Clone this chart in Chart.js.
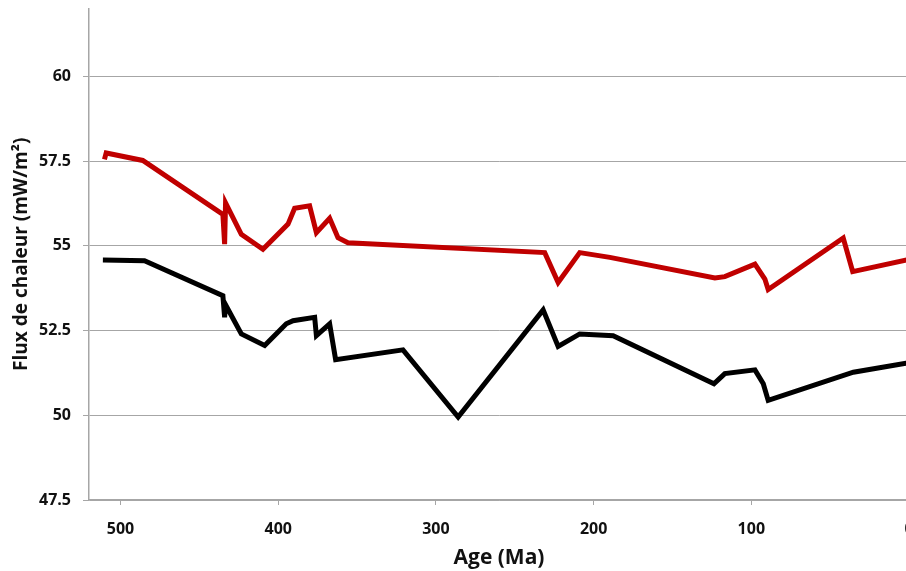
<!DOCTYPE html>
<html>
<head>
<meta charset="utf-8">
<script src="https://cdn.jsdelivr.net/npm/chart.js@4/dist/chart.umd.min.js"></script>
<style>
  html, body { margin: 0; padding: 0; background: #fff; overflow: hidden; }
  #wrap { position: absolute; left: 0; top: -13px; }
</style>
</head>
<body>
<div id="wrap"><canvas id="myChart" width="930" height="584"></canvas></div>
<script>
// values
const redAges = [510.2, 509.1, 485.9, 435.1, 434.0, 433.4, 423.4, 409.7, 393.8, 389.6, 380.1, 375.8, 367.4, 362.1, 355.8, 231.0, 222.5, 208.8, 189.7, 123.1, 116.8, 97.7, 91.4, 89.3, 41.7, 35.7, 0];
const redFlux = [57.55, 57.74, 57.52, 55.93, 55.05, 56.27, 55.34, 54.90, 55.64, 56.11, 56.18, 55.39, 55.81, 55.24, 55.09, 54.80, 53.92, 54.80, 54.66, 54.05, 54.09, 54.46, 54.02, 53.71, 55.23, 54.24, 54.6];

const blackAges = [511.2, 484.8, 435.1, 434.0, 433.4, 423.4, 408.6, 394.9, 390.6, 376.9, 375.8, 367.4, 363.6, 320.9, 285.9, 232.0, 222.5, 208.8, 187.6, 123.7, 116.8, 97.7, 92.4, 89.3, 35.3, 0];
const blackFlux = [54.58, 54.56, 53.53, 52.89, 53.26, 52.40, 52.06, 52.70, 52.79, 52.89, 52.35, 52.70, 51.64, 51.93, 49.95, 53.11, 52.03, 52.40, 52.35, 50.93, 51.23, 51.34, 50.93, 50.44, 51.27, 51.55];

const xTicks = [0, 100, 200, 300, 400, 500];
const yTicks = [47.5, 50, 52.5, 55, 57.5, 60];

const toPoints = (xs, ys) => xs.map((x, i) => ({ x: x, y: ys[i] }));

const tickFont = { family: "'Open Sans'", size: 16, weight: 'bold' };
const gridColor = '#a6a6a6';

new Chart("myChart", {
  type: "line",
  data: {
    datasets: [
      {
        label: "rouge",
        data: toPoints(redAges, redFlux),
        borderColor: "#c00000",
        borderWidth: 5,
        pointRadius: 0,
        tension: 0,
        fill: false
      },
      {
        label: "noir",
        data: toPoints(blackAges, blackFlux),
        borderColor: "#000000",
        borderWidth: 5,
        pointRadius: 0,
        tension: 0,
        fill: false
      }
    ]
  },
  options: {
    responsive: false,
    animation: false,
    layout: { padding: { left: 0, right: 21, top: 7, bottom: 0 } },
    plugins: {
      legend: { display: false },
      tooltip: { enabled: false }
    },
    scales: {
      x: {
        type: "linear",
        reverse: true,
        min: 0,
        max: 520,
        afterBuildTicks: s => { s.ticks = xTicks.map(v => ({ value: v })); },
        afterFit: s => { s.height = 71; },
        grid: { drawOnChartArea: false, drawTicks: true, tickLength: 5, color: gridColor },
        border: { color: gridColor, width: 1.5 },
        ticks: { font: tickFont, color: "#111", padding: 15, maxRotation: 0 },
        title: {
          display: true,
          text: "Age (Ma)",
          font: { family: "'Open Sans'", size: 21, weight: 'bold' },
          color: "#111",
          padding: { top: 0, bottom: 0 }
        }
      },
      y: {
        min: 47.5,
        max: 62,
        afterBuildTicks: s => { s.ticks = yTicks.map(v => ({ value: v })); },
        afterFit: s => { s.width = 89; },
        grid: { drawTicks: true, tickLength: 6, color: gridColor },
        border: { color: gridColor, width: 1.5 },
        ticks: { font: tickFont, color: "#111", padding: 12 },
        title: {
          display: true,
          text: "Flux de chaleur (mW/m²)",
          font: { family: "'Open Sans'", size: 19, weight: 'bold' },
          color: "#111",
          padding: { top: 10, bottom: 0 }
        }
      }
    }
  }
});
</script>
</body>
</html>
